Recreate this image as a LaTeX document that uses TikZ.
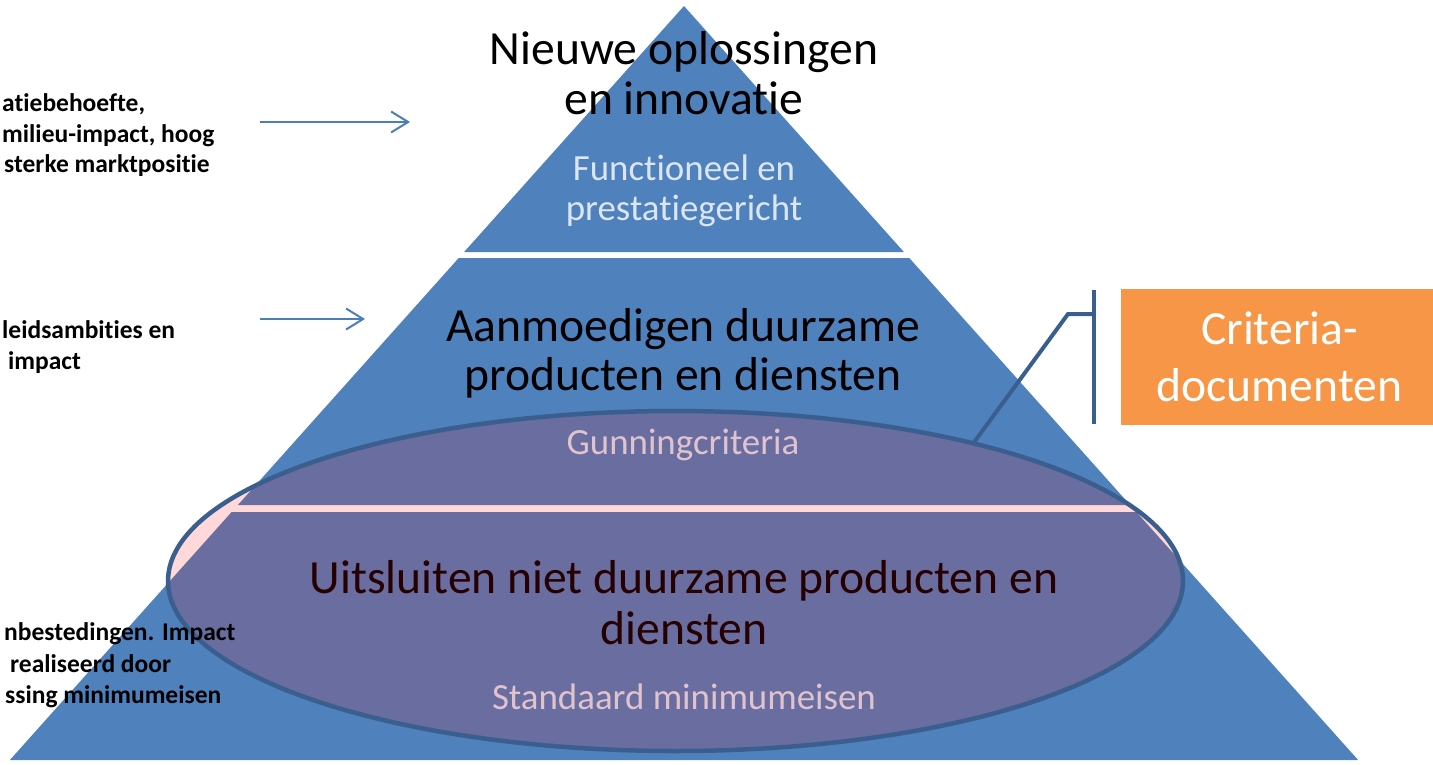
\documentclass[tikz,border=0pt]{standalone}
\usepackage{fontspec}
\setmainfont{Carlito}[Ligatures={NoCommon}]
\usetikzlibrary{shapes.geometric,arrows.meta}
\definecolor{pyr}{HTML}{4F81BD}
\definecolor{lighttxt}{HTML}{DCE6F2}
\definecolor{ellborder}{HTML}{3A5F8E}
\definecolor{ellfill}{HTML}{FF0000}
\definecolor{arrowblue}{HTML}{4A7EBB}
\definecolor{critorange}{HTML}{F79646}
\begin{document}
\begin{tikzpicture}[x=1pt,y=-1pt,
  bigtxt/.style={anchor=base,inner sep=0pt,font=\fontsize{47.6}{50}\selectfont,text=black},
  smalltxt/.style={anchor=base,inner sep=0pt,font=\fontsize{36.9}{40}\selectfont,text=lighttxt},
  sidetxt/.style={anchor=base west,inner sep=0pt,font=\fontsize{25.5}{31}\selectfont\bfseries,text=black},
  sidearrow/.style={draw=arrowblue,line width=2pt,-{Straight Barb[length=17pt,width=21pt,line width=2pt]}},
  connline/.style={draw=ellborder,line width=4pt}]
\useasboundingbox (0,0) rectangle (1433,765);
\clip (0,0) rectangle (1433,765);

% pyramid
\fill[pyr] (684,6) -- (903.9,252) -- (464.1,252) -- cycle;
\fill[pyr] (458.7,258) -- (909.3,258) -- (1130.1,505) -- (237.9,505) -- cycle;
\fill[pyr] (231.6,512) -- (1136.4,512) -- (1358.1,760) -- (9.9,760) -- cycle;

% pyramid texts
\node[bigtxt] (t1a) at (684,65) {Nieuwe oplossingen};
\node[bigtxt] (t1b) at (684,115) {en innovatie};
\node[smalltxt] (s1a) at (684,181) {Functioneel en};
\node[smalltxt] (s1b) at (684,220) {prestatiegericht};
\node[bigtxt] (t2a) at (683,341) {Aanmoedigen duurzame};
\node[bigtxt] (t2b) at (683,390) {producten en diensten};
\node[smalltxt] (s2) at (683,454) {Gunningcriteria};
\node[bigtxt] (t3a) at (684,593) {Uitsluiten niet duurzame producten en};
\node[bigtxt] (t3b) at (684,644) {diensten};
\node[smalltxt] (s3) at (684,709) {Standaard minimumeisen};

% ellipse
\node[ellipse,minimum width=1015pt,minimum height=340pt,inner sep=0pt,
      fill=ellfill,fill opacity=0.15,draw=ellborder,line width=4.5pt] (ell) at (675.5,581) {};

% side texts
\node[sidetxt] (l1a) at (2,112) {atiebehoefte,};
\node[sidetxt] (l1b) at (2,143) {milieu-impact, hoog};
\node[sidetxt] (l1c) at (4,173) {sterke marktpositie};
\node[sidetxt] (l2a) at (2,338) {leidsambities en};
\node[sidetxt] (l2b) at (8,369) {impact};
\node[sidetxt] (l3a) at (4,640) {nbestedingen. Impact};
\node[sidetxt] (l3b) at (10,672) {realiseerd door};
\node[sidetxt] (l3c) at (5,703) {ssing minimumeisen};

% arrows
\coordinate (a1s) at (260,122);
\coordinate (a1e) at (410,122);
\coordinate (a2s) at (260,319);
\coordinate (a2e) at (365,319);
\draw[sidearrow] (a1s) -- (a1e);
\draw[sidearrow] (a2s) -- (a2e);

% criteria box and bracket
\coordinate (bartop) at (1094,290);
\coordinate (barbot) at (1094,424);
\coordinate (barmid) at (1094,314);
\coordinate (bend) at (1068,314);
\draw[connline] (bartop) -- (barbot);
\draw[connline,line join=miter] (ell.25) -- (bend) -- (barmid);
\node[fill=critorange,minimum width=317pt,minimum height=136pt,inner sep=0pt,
      text=white,align=center,font=\fontsize{47.6}{57}\selectfont] (crit) at (1279.5,357)
      {Criteria-\\documenten};
\end{tikzpicture}
\end{document}
